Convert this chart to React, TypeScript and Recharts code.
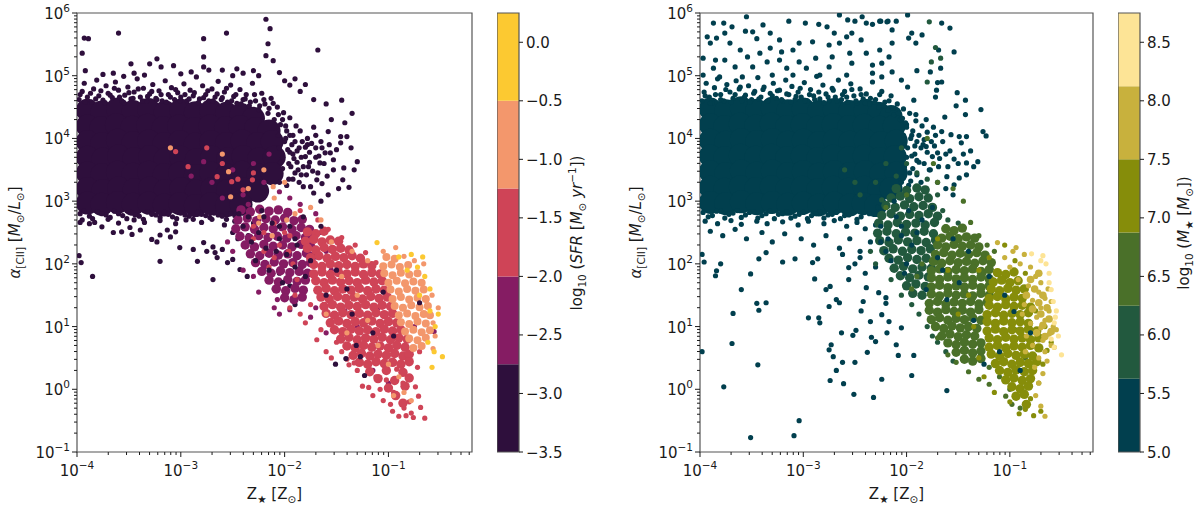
import React from "react";
import { ScatterChart, Scatter, XAxis, YAxis, ReferenceArea } from "recharts";

type P = [number, number];

// axes are log10(Z / Zsun) and log10(alpha); ticks are drawn as 10^n
const X_DOMAIN: [number, number] = [-4, -0.195];
const Y_DOMAIN: [number, number] = [-1, 6];
const X_MAJOR = [-4, -3, -2, -1];
const Y_MAJOR = [-1, 0, 1, 2, 3, 4, 5, 6];
const MINOR_STEPS = [2, 3, 4, 5, 6, 7, 8, 9];

const SFR_EDGES = [-3.5, -2.75, -2.0, -1.25, -0.5, 0.25];
const SFR_COLORS = ["#2e0f3c", "#851c63", "#cf4457", "#f3976c", "#fcc931"];
const SFR_TICKS = [-3.5, -3.0, -2.5, -2.0, -1.5, -1.0, -0.5, 0.0];

const MASS_EDGES = [5.0, 5.625, 6.25, 6.875, 7.5, 8.125, 8.75];
const MASS_COLORS = ["#013f4e", "#22593e", "#4a7029", "#868d0a", "#c8b13d", "#fde496"];
const MASS_TICKS = [5.0, 5.5, 6.0, 6.5, 7.0, 7.5, 8.0, 8.5];

// ---------- left panel (coloured by SFR) ----------
const leftDarkCore: P[] = [
  [-3.9,4.45],[-3.76,4.42],[-3.61,4.47],[-3.46,4.43],[-3.31,4.46],[-3.15,4.42],[-3.0,4.45],[-2.86,4.41],[-2.71,4.44],[-2.56,4.4],[-2.42,4.38],[-2.3,4.32],
  [-3.9,4.2],[-3.77,4.17],[-3.62,4.22],[-3.47,4.18],[-3.32,4.21],[-3.17,4.17],[-3.02,4.2],[-2.87,4.16],[-2.72,4.2],[-2.57,4.17],[-2.43,4.19],[-2.28,4.16],[-2.15,4.12],
  [-3.9,3.95],[-3.76,3.92],[-3.61,3.97],[-3.46,3.93],[-3.31,3.96],[-3.16,3.92],[-3.01,3.95],[-2.86,3.91],[-2.71,3.95],[-2.56,3.92],[-2.41,3.96],[-2.26,3.92],[-2.12,3.95],
  [-3.9,3.7],[-3.75,3.67],[-3.6,3.72],[-3.45,3.68],[-3.3,3.71],[-3.15,3.67],[-3.0,3.7],[-2.85,3.66],[-2.7,3.7],[-2.55,3.67],[-2.4,3.71],[-2.25,3.67],[-2.1,3.7],
  [-3.9,3.45],[-3.76,3.42],[-3.61,3.46],[-3.46,3.43],[-3.31,3.46],[-3.16,3.42],[-3.01,3.45],[-2.86,3.41],[-2.71,3.45],[-2.56,3.42],[-2.41,3.46],[-2.26,3.42],[-2.12,3.44],
  [-3.9,3.2],[-3.75,3.17],[-3.6,3.21],[-3.45,3.18],[-3.3,3.21],[-3.15,3.17],[-3.0,3.2],[-2.85,3.16],[-2.7,3.2],[-2.55,3.17],[-2.4,3.2],[-2.26,3.16],
  [-3.9,2.97],[-3.76,2.95],[-3.61,2.98],[-3.46,2.95],[-3.31,2.97],[-3.16,2.94],[-3.01,2.96],[-2.86,2.93],[-2.71,2.96],[-2.56,2.93],[-2.42,2.95],
];

const leftDark: P[] = [
  [-3.98,4.62],[-3.95,4.75],[-3.93,4.88],[-3.9,4.66],[-3.86,4.58],[-3.84,4.79],[-3.81,4.93],[-3.79,4.68],[-3.75,4.61],[-3.72,4.84],[-3.7,4.72],[-3.66,4.65],[-3.63,4.9],[-3.6,4.77],[-3.57,4.6],[-3.54,4.69],[-3.51,4.82],[-3.48,4.63],[-3.45,4.74],[-3.42,4.95],[-3.39,4.66],[-3.36,4.8],[-3.33,4.59],[-3.3,4.71],[-3.27,4.86],[-3.24,4.64],[-3.21,4.76],[-3.18,4.6],[-3.15,4.92],[-3.12,4.7],[-3.09,4.81],[-3.06,4.62],[-3.03,4.73],[-3.0,4.66],[-2.97,4.87],[-2.94,4.6],[-2.91,4.77],[-2.88,4.68],[-2.85,4.98],[-2.82,4.63],[-2.79,4.84],[-2.76,4.7],[-2.73,4.6],[-2.7,4.79],[-2.67,4.66],[-2.64,4.91],[-2.61,4.62],[-2.58,4.74],[-2.55,4.58],[-2.52,4.85],[-2.49,4.67],[-2.46,4.56],[-2.43,4.78],[-2.4,4.62],[-2.37,4.7],[-2.34,4.52],[-2.31,4.88],[-2.28,4.6],[-2.25,4.46],[-2.22,4.72],[-2.19,4.55],[-2.16,4.4],[-2.13,4.64],[-2.1,4.3],[-2.07,4.5],[-2.04,4.22],[-2.01,4.41],[-1.98,4.12],[-1.95,4.33],[-1.92,4.05],[-1.89,4.2],
  [-3.97,4.7],[-3.92,4.58],[-3.87,4.72],[-3.82,4.63],[-3.77,4.76],[-3.73,4.57],[-3.68,4.69],[-3.64,4.8],[-3.59,4.66],[-3.55,4.57],[-3.5,4.73],[-3.46,4.64],[-3.41,4.79],[-3.37,4.6],[-3.32,4.67],[-3.28,4.75],[-3.23,4.62],[-3.19,4.7],[-3.14,4.58],[-3.1,4.66],[-3.05,4.78],[-3.01,4.6],[-2.96,4.7],[-2.92,4.63],[-2.87,4.73],[-2.83,4.57],[-2.78,4.65],[-2.74,4.76],[-2.69,4.6],[-2.65,4.71],[-2.6,4.65],[-2.56,4.8],[-2.51,4.6],[-2.47,4.7],[-2.42,4.55],[-2.38,4.63],[-2.33,4.58],[-2.29,4.7],[-2.24,4.52],[-2.2,4.62],[-2.15,4.48],[-2.11,4.56],[-2.06,4.38],[-2.02,4.3],[-1.99,4.2],
  [-3.93,5.6],[-3.89,5.59],[-3.95,5.36],[-3.92,5.08],[-3.6,5.68],[-2.78,5.59],[-2.78,5.3],[-2.56,5.68],[-2.18,5.9],[-2.14,5.75],[-2.16,5.51],[-2.18,5.32],[-2.11,5.24],[-3.23,5.27],[-3.3,5.19],[-3.48,5.19],[-3.07,5.16],[-3.19,5.14],[-2.78,5.14],[-2.73,5.09],[-2.6,5.09],[-2.46,5.11],[-3.65,5.04],[-3.45,5.04],[-3.75,5.02],[-3.55,4.99],[-3.35,5.01],[-3.0,5.03],[-2.9,5.06],[-2.5,5.0],[-2.4,5.04],[-2.3,5.08],[-2.25,5.0],[-2.05,5.05],[-2.0,4.92],[-1.95,4.85],[-1.9,4.95],[-1.85,4.75],[-1.8,4.86],[-1.72,4.62],[-1.68,5.41],[-1.6,4.55],[-1.55,4.3],[-1.45,4.61],[-1.42,4.25],[-1.35,4.4],
  [-1.72,4.18],[-1.58,4.11],[-1.46,4.03],[-1.4,4.03],[-1.46,3.93],[-1.3,3.63],[-1.43,3.53],[-1.44,3.34],[-1.53,3.5],[-1.61,3.77],[-1.53,3.66],[-1.69,3.34],[-1.68,3.45],[-1.75,3.23],[-1.72,3.13],[-1.56,3.77],[-1.66,3.61],[-1.8,3.71],[-1.77,3.55],[-1.84,3.42],[-1.82,3.23],
  [-1.95,4.05],[-1.9,3.95],[-1.86,3.85],[-1.92,3.75],[-1.88,3.62],[-1.83,3.95],[-1.8,3.86],[-1.78,4.0],[-1.85,4.12],[-1.94,3.55],[-1.9,3.45],[-1.86,3.3],[-1.96,3.35],[-1.76,3.78],[-1.74,3.92],[-1.7,4.05],[-1.65,3.95],[-1.64,3.85],[-1.7,3.7],[-2.02,3.52],[-1.98,3.25],[-2.05,3.3],
  [-2.0,3.95],[-1.97,3.82],[-2.02,3.7],[-1.96,3.6],[-2.04,3.62],[-1.99,4.0],[-2.05,3.85],[-1.93,3.9],[-1.91,3.68],[-1.95,3.78],[-2.06,4.05],[-1.88,3.8],[-1.84,3.7],[-1.82,3.55],[-1.87,3.5],[-1.92,3.35],[-1.79,3.42],[-1.76,3.62],[-1.73,3.48],[-1.78,3.9],[-1.7,3.85],[-1.67,3.72],[-1.62,3.6],[-1.59,3.4],[-1.64,3.28],[-1.57,3.9],[-1.5,3.82],[-1.36,3.85],[-1.33,3.5],[-1.38,3.22],[-1.48,3.2],[-1.58,3.1],[-1.65,3.0],
  [-3.97,2.8],[-3.88,2.76],[-3.8,2.83],[-3.72,2.78],[-3.64,2.84],[-3.56,2.77],[-3.48,2.82],[-3.4,2.76],[-3.32,2.83],[-3.24,2.78],[-3.16,2.82],[-3.08,2.75],[-3.0,2.81],[-2.92,2.76],[-2.84,2.82],[-2.76,2.77],[-2.68,2.81],[-2.6,2.76],[-2.52,2.8],[-2.44,2.74],[-2.36,2.8],
  [-3.93,2.84],[-3.85,2.72],[-3.76,2.8],[-3.68,2.74],[-3.6,2.8],[-3.52,2.72],[-3.44,2.78],[-3.36,2.71],[-3.28,2.79],[-3.2,2.74],[-3.12,2.79],[-3.04,2.72],[-2.96,2.78],[-2.88,2.71],[-2.8,2.79],[-2.72,2.74],[-2.64,2.78],[-2.56,2.71],[-2.48,2.77],
  [-3.95,2.7],[-3.83,2.66],[-3.7,2.71],[-3.6,2.65],[-3.45,2.7],[-3.35,2.66],[-3.2,2.69],[-3.05,2.64],[-2.95,2.7],[-2.8,2.66],[-2.7,2.71],[-2.58,2.62],[-2.48,2.68],[-2.4,2.58],[-2.3,2.65],
  [-3.97,2.66],[-3.88,2.64],[-3.76,2.59],[-3.65,2.5],[-3.57,2.51],[-3.49,2.58],[-3.47,2.47],[-3.39,2.54],[-3.28,2.39],[-3.23,2.35],[-3.2,2.46],[-3.13,2.54],[-3.1,2.43],[-3.05,2.51],[-3.01,2.26],[-2.88,2.23],[-2.84,2.04],[-2.78,2.34],[-2.75,2.2],[-2.69,2.27],[-2.67,2.18],[-2.65,2.1],[-2.6,2.23],[-2.55,2.02],[-3.2,2.04],[-2.69,1.75],[-3.85,1.8],[-3.98,2.13],[-3.96,2.02],[-2.5,2.07],[-2.43,1.91],[-2.36,1.8],
  [-2.3,2.3],[-2.25,2.1],[-2.2,1.95],[-2.15,1.75],[-2.1,1.6],[-2.05,1.85],[-2.0,1.45],[-1.95,1.65],[-1.9,1.35],[-2.35,2.45],[-2.45,2.4],[-2.5,2.5],
];

const leftPurpleCore: P[] = [
  [-2.42,2.86],[-2.33,2.83],[-2.24,2.87],[-2.15,2.84],[-2.06,2.86],[-1.97,2.82],
  [-2.45,2.7],[-2.36,2.73],[-2.27,2.69],[-2.18,2.72],[-2.09,2.7],[-2.0,2.73],[-1.91,2.69],[-1.83,2.71],
  [-2.47,2.56],[-2.38,2.59],[-2.29,2.55],[-2.2,2.58],[-2.11,2.56],[-2.02,2.59],[-1.93,2.55],[-1.84,2.58],[-1.76,2.55],
  [-2.43,2.44],[-2.34,2.41],[-2.25,2.45],[-2.16,2.42],[-2.07,2.44],[-1.98,2.41],[-1.89,2.45],[-1.8,2.42],[-1.72,2.44],
  [-2.38,2.3],[-2.29,2.27],[-2.2,2.31],[-2.11,2.28],[-2.02,2.3],[-1.93,2.27],[-1.84,2.31],[-1.75,2.28],
  [-2.33,2.16],[-2.24,2.13],[-2.15,2.17],[-2.06,2.14],[-1.97,2.16],[-1.88,2.13],[-1.79,2.17],[-1.71,2.14],
  [-2.28,2.02],[-2.19,1.99],[-2.1,2.03],[-2.01,2.0],[-1.92,2.02],[-1.83,1.99],[-1.75,2.02],
  [-2.22,1.88],[-2.13,1.85],[-2.04,1.89],[-1.95,1.86],[-1.86,1.88],[-1.78,1.85],
  [-2.15,1.74],[-2.06,1.71],[-1.97,1.75],[-1.88,1.72],[-1.8,1.74],
  [-2.08,1.6],[-1.99,1.57],[-1.9,1.61],[-1.82,1.58],
  [-2.0,1.46],[-1.91,1.43],[-1.83,1.47],
];

const leftPurple: P[] = [
  [-2.9,3.4],[-2.78,3.63],[-2.7,3.3],[-2.5,3.5],[-2.3,3.6],[-2.2,3.3],[-2.05,3.15],[-2.4,3.1],[-2.6,3.05],[-2.15,3.75],[-1.95,3.05],[-2.35,2.95],[-1.85,2.95],[-1.7,2.8],[-1.65,2.5],[-1.6,2.2],[-1.55,1.9],[-1.5,1.5],[-1.3,1.0],[-1.1,1.3],[-0.95,0.6],[-1.25,0.6],[-1.6,0.9],[-0.56,0.92],
  [-2.1,1.3],[-2.05,1.2],[-1.95,1.27],[-2.07,1.43],[-2.25,1.55],[-2.3,1.8],[-2.4,1.9],[-2.5,2.2],[-2.55,2.35],[-1.7,1.3],[-1.75,1.15],[-1.45,0.8],[-1.35,0.55],[-1.15,0.3],[-1.0,0.1],[-1.42,1.25],[-1.2,1.6],[-1.4,2.0],[-0.8,0.45],[-0.75,1.0],
];

const leftRedCore: P[] = [
  [-1.78,2.51],[-1.7,2.48],[-1.62,2.52],
  [-1.8,2.36],[-1.72,2.39],[-1.64,2.35],[-1.56,2.38],[-1.48,2.36],
  [-1.78,2.25],[-1.7,2.22],[-1.62,2.26],[-1.54,2.23],[-1.46,2.25],[-1.38,2.22],
  [-1.75,2.1],[-1.67,2.13],[-1.59,2.09],[-1.51,2.12],[-1.43,2.1],[-1.35,2.13],[-1.27,2.09],
  [-1.72,1.99],[-1.64,1.96],[-1.56,2.0],[-1.48,1.97],[-1.4,1.99],[-1.32,1.96],[-1.24,2.0],[-1.16,1.97],
  [-1.72,1.84],[-1.64,1.87],[-1.56,1.83],[-1.48,1.86],[-1.4,1.84],[-1.32,1.87],[-1.24,1.83],[-1.16,1.86],[-1.08,1.84],
  [-1.7,1.73],[-1.62,1.7],[-1.54,1.74],[-1.46,1.71],[-1.38,1.73],[-1.3,1.7],[-1.22,1.74],[-1.14,1.71],[-1.06,1.73],
  [-1.68,1.58],[-1.6,1.61],[-1.52,1.57],[-1.44,1.6],[-1.36,1.58],[-1.28,1.61],[-1.2,1.57],[-1.12,1.6],[-1.04,1.58],
  [-1.65,1.47],[-1.57,1.44],[-1.49,1.48],[-1.41,1.45],[-1.33,1.47],[-1.25,1.44],[-1.17,1.48],[-1.09,1.45],[-1.01,1.47],
  [-1.62,1.32],[-1.54,1.35],[-1.46,1.31],[-1.38,1.34],[-1.3,1.32],[-1.22,1.35],[-1.14,1.31],[-1.06,1.34],[-0.98,1.32],
  [-1.6,1.21],[-1.52,1.18],[-1.44,1.22],[-1.36,1.19],[-1.28,1.21],[-1.2,1.18],[-1.12,1.22],[-1.04,1.19],[-0.96,1.21],
  [-1.56,1.06],[-1.48,1.09],[-1.4,1.05],[-1.32,1.08],[-1.24,1.06],[-1.16,1.09],[-1.08,1.05],[-1.0,1.08],[-0.92,1.06],
  [-1.52,0.95],[-1.44,0.92],[-1.36,0.96],[-1.28,0.93],[-1.2,0.95],[-1.12,0.92],[-1.04,0.96],[-0.96,0.93],[-0.88,0.95],
  [-1.46,0.8],[-1.38,0.83],[-1.3,0.79],[-1.22,0.82],[-1.14,0.8],[-1.06,0.83],[-0.98,0.79],[-0.9,0.82],[-0.82,0.8],
  [-1.4,0.69],[-1.32,0.66],[-1.24,0.7],[-1.16,0.67],[-1.08,0.69],[-1.0,0.66],[-0.92,0.7],[-0.84,0.67],
  [-1.34,0.54],[-1.26,0.57],[-1.18,0.53],[-1.1,0.56],[-1.02,0.54],[-0.94,0.57],[-0.86,0.53],[-0.8,0.56],
  [-1.28,0.43],[-1.2,0.4],[-1.12,0.44],[-1.04,0.41],[-0.96,0.43],[-0.88,0.4],[-0.8,0.44],
  [-1.18,0.28],[-1.02,0.3],[-0.86,0.27],
  [-1.1,0.17],[-0.94,0.14],[-0.8,0.18],
  [-1.0,0.02],[-0.84,0.05],
  [-0.93,-0.1],[-0.86,-0.22],
];

const leftRed: P[] = [
  [-1.8,1.06],[-1.69,0.79],[-1.38,0.39],[-1.19,0.03],[-1.08,0.0],[-0.98,-0.24],[-0.9,-0.43],[-0.76,-0.45],[-0.65,-0.46],[-0.69,-0.29],[-0.71,-0.11],[-0.74,0.04],[-0.79,0.2],[-1.6,0.6],[-1.5,0.75],[-1.3,0.3],[-1.15,-0.1],[-1.9,1.5],[-1.95,1.3],[-1.85,1.2],[-1.75,1.35],[-1.25,0.05],[-0.85,-0.3],[-1.02,0.15],[-0.95,-0.05],[-0.86,0.1],[-0.8,-0.2],[-0.92,0.32],[-1.12,0.2],[-0.72,0.35],[-0.7,0.6],[-1.55,0.5],[-1.45,0.6],[-1.65,0.95],
  [-1.88,1.75],[-1.92,2.0],[-1.96,2.2],[-2.0,2.5],[-2.1,2.65],[-2.3,2.6],[-2.2,2.2],[-2.15,1.95],[-1.85,2.85],[-1.68,2.7],[-1.58,2.55],[-1.45,2.42],[-1.32,2.3],[-1.22,2.18],[-1.12,2.02],[-1.4,0.48],[-1.33,0.42],[-0.78,-0.38],[-0.83,-0.42],[-0.96,-0.35],[-1.05,-0.18],
  [-2.6,3.6],[-2.75,3.85],[-2.45,3.35],[-2.3,3.45],[-2.93,3.55],[-2.51,3.31],[-2.31,3.34],[-2.4,3.18],[-2.65,3.39],[-3.05,3.79],
  [-2.2,2.5],[-2.05,2.3],[-1.95,2.45],[-2.1,2.1],[-2.3,2.4],
];

const leftOrangeCore: P[] = [
  [-1.02,2.11],[-0.94,2.08],
  [-1.05,1.96],[-0.97,1.99],[-0.89,1.95],[-0.81,1.98],
  [-1.04,1.85],[-0.96,1.82],[-0.88,1.86],[-0.8,1.83],[-0.72,1.85],
  [-1.0,1.7],[-0.92,1.73],[-0.84,1.69],[-0.76,1.72],[-0.68,1.7],
  [-0.98,1.59],[-0.9,1.56],[-0.82,1.6],[-0.74,1.57],[-0.66,1.59],
  [-0.96,1.44],[-0.88,1.47],[-0.8,1.43],[-0.72,1.46],[-0.64,1.44],
  [-0.94,1.33],[-0.86,1.3],[-0.78,1.34],[-0.7,1.31],[-0.62,1.33],
  [-0.9,1.18],[-0.82,1.21],[-0.74,1.17],[-0.66,1.2],[-0.6,1.18],
  [-0.88,1.07],[-0.8,1.04],[-0.72,1.08],[-0.64,1.05],
  [-0.84,0.92],[-0.76,0.95],[-0.68,0.91],[-0.6,0.94],
  [-0.8,0.81],[-0.72,0.78],[-0.64,0.82],
  [-0.76,0.66],[-0.68,0.69],
];

const leftOrange: P[] = [
  [-0.57,0.65],[-0.57,1.06],[-0.62,1.19],[-0.93,2.26],[-1.05,2.2],[-1.2,2.05],[-1.35,2.2],[-1.55,2.35],[-1.45,1.8],[-1.3,1.5],[-1.2,1.1],[-1.1,0.7],[-1.0,0.4],[-0.9,0.2],[-0.85,-0.05],[-0.78,-0.18],[-0.95,-0.1],[-1.65,2.7],[-1.75,2.9],[-2.0,3.3],[-2.2,3.5],[-2.6,3.75],[-2.35,3.2],[-2.1,3.05],[-1.9,2.8],[-1.6,1.2],[-1.4,0.9],[-0.55,0.85],[-0.52,1.3],[-0.58,1.5],[-0.66,2.0],[-0.75,2.05],[-0.85,2.12],
  [-3.1,3.85],[-2.54,3.47],[-2.52,3.07],[-2.24,2.75],[-2.11,3.23],
  [-2.12,2.45],[-1.98,2.7],[-2.25,2.65],
];

const leftYellow: P[] = [
  [-1.11,2.34],[-0.9,2.11],[-0.78,2.15],[-0.67,2.11],[-0.48,0.52],[-0.55,1.0],[-0.6,1.6],[-0.65,1.8],[-0.7,1.5],[-0.52,1.2],[-0.62,0.75],[-0.58,0.35],[-0.82,1.9],[-0.72,1.95],[-0.6,1.25],[-0.56,0.6],
];

const leftDarkTop: P[] = [
  [-1.51,0.4],[-1.41,0.49],[-1.31,0.7],[-1.27,0.52],[-1.23,0.22],[-0.7,1.38],[-1.6,1.5],[-1.75,2.05],[-1.5,1.9],[-1.35,1.2],[-1.15,0.9],[-1.05,1.55],[-1.9,2.4],[-2.05,2.6],[-1.65,2.6],[-2.2,2.75],[-1.8,1.8],[-1.4,1.6],[-0.95,0.85],
  [-2.4,2.6],[-2.32,2.35],[-2.25,2.5],[-2.18,2.25],[-2.12,2.65],[-2.05,2.4],[-1.98,2.15],[-1.95,2.6],[-2.28,2.05],[-2.15,1.9],[-2.08,2.2],[-1.88,2.3],[-1.82,2.75],[-2.44,2.8],[-2.22,2.85],[-1.9,1.95],[-2.02,1.7],[-2.35,2.75],
];

// ---------- right panel (coloured by stellar mass) ----------
const rightTealCore: P[] = [
  [-3.9,4.47],[-3.75,4.44],[-3.6,4.49],[-3.45,4.45],[-3.3,4.48],[-3.15,4.44],[-3.0,4.47],[-2.85,4.43],[-2.7,4.46],[-2.55,4.43],[-2.4,4.45],[-2.27,4.4],[-2.15,4.35],
  [-3.9,4.22],[-3.76,4.19],[-3.61,4.23],[-3.46,4.2],[-3.31,4.23],[-3.16,4.19],[-3.01,4.22],[-2.86,4.18],[-2.71,4.22],[-2.56,4.19],[-2.41,4.21],[-2.26,4.18],[-2.12,4.2],
  [-3.9,3.97],[-3.75,3.94],[-3.6,3.98],[-3.45,3.95],[-3.3,3.98],[-3.15,3.94],[-3.0,3.97],[-2.85,3.93],[-2.7,3.97],[-2.55,3.94],[-2.4,3.97],[-2.25,3.93],[-2.1,3.96],
  [-3.9,3.72],[-3.76,3.69],[-3.61,3.73],[-3.46,3.7],[-3.31,3.73],[-3.16,3.69],[-3.01,3.72],[-2.86,3.68],[-2.71,3.72],[-2.56,3.69],[-2.41,3.72],[-2.26,3.68],[-2.11,3.71],
  [-3.9,3.47],[-3.75,3.44],[-3.6,3.48],[-3.45,3.45],[-3.3,3.48],[-3.15,3.44],[-3.0,3.47],[-2.85,3.43],[-2.7,3.47],[-2.55,3.44],[-2.4,3.47],[-2.25,3.43],[-2.1,3.45],
  [-3.9,3.22],[-3.76,3.19],[-3.61,3.23],[-3.46,3.2],[-3.31,3.23],[-3.16,3.19],[-3.01,3.22],[-2.86,3.18],[-2.71,3.22],[-2.56,3.19],[-2.41,3.22],[-2.27,3.18],[-2.15,3.2],
  [-3.9,2.98],[-3.75,2.96],[-3.6,2.99],[-3.45,2.96],[-3.3,2.98],[-3.15,2.95],[-3.0,2.97],[-2.85,2.94],[-2.7,2.97],[-2.55,2.94],[-2.42,2.96],[-2.3,2.93],
];

const rightTeal: P[] = [
  [-3.98,4.6],[-3.96,4.74],[-3.94,4.88],[-3.91,4.66],[-3.88,4.57],[-3.86,4.81],[-3.83,4.95],[-3.8,4.7],[-3.77,4.6],[-3.74,4.86],[-3.71,4.74],[-3.68,4.64],[-3.65,4.92],[-3.62,4.79],[-3.59,4.6],[-3.56,4.69],[-3.53,4.84],[-3.5,4.62],[-3.47,4.75],[-3.44,4.97],[-3.41,4.66],[-3.38,4.82],[-3.35,4.59],[-3.32,4.72],[-3.29,4.88],[-3.26,4.64],[-3.23,4.77],[-3.2,4.6],[-3.17,4.93],[-3.14,4.7],[-3.11,4.83],[-3.08,4.62],[-3.05,4.74],[-3.02,4.66],[-2.99,4.89],[-2.96,4.6],[-2.93,4.78],[-2.9,4.68],[-2.87,4.99],[-2.84,4.63],[-2.81,4.85],[-2.78,4.71],[-2.75,4.6],[-2.72,4.8],[-2.69,4.66],[-2.66,4.93],[-2.63,4.62],[-2.6,4.75],[-2.57,4.58],[-2.54,4.87],[-2.51,4.68],[-2.48,4.57],[-2.45,4.79],[-2.42,4.63],[-2.39,4.71],[-2.36,4.55],[-2.33,4.9],[-2.3,4.62],[-2.27,4.5],[-2.24,4.75],[-2.21,4.58],[-2.18,4.45],[-2.15,4.68],[-2.12,4.38],[-2.09,4.55],[-2.06,4.3],[-2.03,4.47],[-2.0,4.22],[-1.97,4.4],[-1.94,4.12],[-1.91,4.28],
  [-3.95,4.68],[-3.9,4.56],[-3.85,4.7],[-3.8,4.62],[-3.75,4.78],[-3.7,4.58],[-3.66,4.7],[-3.61,4.82],[-3.57,4.66],[-3.52,4.58],[-3.48,4.72],[-3.43,4.63],[-3.39,4.78],[-3.34,4.6],[-3.3,4.68],[-3.25,4.76],[-3.21,4.62],[-3.16,4.71],[-3.12,4.58],[-3.07,4.67],[-3.03,4.8],[-2.98,4.6],[-2.94,4.7],[-2.89,4.62],[-2.85,4.74],[-2.8,4.57],[-2.76,4.66],[-2.71,4.77],[-2.67,4.6],[-2.62,4.7],[-2.58,4.66],[-2.53,4.78],[-2.49,4.6],[-2.44,4.7],[-2.4,4.56],[-2.35,4.64],[-2.31,4.58],[-2.26,4.7],[-2.22,4.52],[-2.17,4.6],[-2.13,4.48],[-2.08,4.4],[-2.04,4.32],[-2.01,4.25],
  [-3.87,5.84],[-3.77,5.84],[-3.69,5.78],[-3.93,5.62],[-3.84,5.6],[-3.9,5.52],[-3.76,5.68],[-3.71,5.52],[-3.97,5.28],[-3.85,5.25],[-3.76,5.25],[-3.55,5.94],[-3.56,5.71],[-3.49,5.7],[-3.45,5.59],[-3.39,5.81],[-3.32,5.68],[-3.23,5.57],[-3.14,5.87],[-2.98,5.84],[-2.85,5.82],[-2.77,5.78],[-2.7,5.68],[-2.65,5.97],[-2.57,5.89],[-2.5,5.87],[-2.43,5.94],[-2.39,5.84],[-2.33,5.82],[-2.25,5.87],[-2.18,5.87],[-2.14,5.73],[-2.53,5.68],[-2.44,5.57],[-2.58,5.62],[-2.65,5.52],[-2.75,5.49],[-2.91,5.54],[-3.04,5.52],[-3.1,5.41],[-3.21,5.38],[-3.32,5.44],[-3.42,5.36],[-3.61,5.41],[-3.54,5.3],[-3.35,5.22],[-3.23,5.25],[-3.04,5.22],[-2.88,5.28],[-2.72,5.3],[-2.55,5.36],[-2.39,5.36],[-2.26,5.41],[-2.17,5.3],[-2.14,5.52],[-2.53,5.2],[-2.33,5.17],[-2.75,5.14],[-2.97,5.12],[-3.16,5.12],[-3.49,5.14],[-3.66,5.14],[-3.87,5.12],[-3.97,5.01],[-3.81,4.98],[-3.59,4.98],[-3.3,5.01],[-3.1,5.01],[-2.84,5.01],[-2.58,5.01],[-2.24,4.98],
  [-2.26,5.87],[-2.19,5.86],[-2.1,5.87],[-1.99,5.97],[-1.66,5.84],[-1.58,5.76],[-1.95,5.68],[-1.85,5.65],[-1.98,5.6],[-1.91,5.52],[-1.69,5.41],[-1.54,5.38],[-1.9,5.08],[-1.77,5.06],[-1.67,5.12],[-1.7,4.89],[-1.66,4.9],[-1.71,4.77],[-1.51,4.73],[-1.43,4.61],[-1.52,4.52],[-1.72,4.66],[-1.28,4.46],[-1.43,4.38],[-1.63,4.34],[-1.26,4.11],[-1.23,4.04],[-1.42,4.03],[-1.49,4.03],[-1.47,3.93],[-1.31,3.63],[-1.42,3.61],[-1.54,3.67],[-1.42,3.42],[-1.49,3.37],[-1.61,3.39],[-1.54,3.26],[-1.7,3.77],[-1.62,3.75],[-1.69,3.55],[-1.75,3.71],[-1.81,3.87],[-1.57,4.06],[-1.66,4.11],[-1.74,4.18],[-1.81,4.3],[-1.91,4.38],[-1.93,4.61],[-1.99,4.82],[-2.05,4.93],[-2.14,5.06],[-2.24,5.2],[-2.33,5.04],
  [-1.95,4.05],[-1.9,3.95],[-1.86,3.85],[-1.92,3.75],[-1.88,3.62],[-1.83,3.98],[-1.8,4.1],[-1.85,4.2],[-1.94,3.52],[-1.9,3.42],[-1.86,3.3],[-1.96,3.32],[-1.76,3.95],[-1.72,4.05],[-1.78,3.5],[-2.02,3.55],[-1.98,3.25],[-2.05,3.3],
  [-2.0,4.18],[-1.96,4.0],[-1.99,3.85],[-1.95,3.72],[-2.03,3.6],[-1.97,3.45],[-2.04,3.38],[-1.92,3.88],[-1.9,3.65],[-1.88,4.05],[-1.84,3.9],[-1.83,3.6],[-1.8,3.78],[-1.77,3.5],[-1.73,3.88],[-1.68,3.68],[-1.65,3.95],[-1.6,3.55],[-1.58,3.8],[-1.5,3.6],[-1.45,3.75],[-1.38,3.8],[-1.35,3.55],[-1.62,3.2],[-1.7,3.3],[-1.55,3.1],[-2.02,3.9],[-2.0,3.7],[-2.03,4.05],
  [-3.97,2.82],[-3.88,2.77],[-3.8,2.84],[-3.72,2.79],[-3.64,2.85],[-3.56,2.78],[-3.48,2.83],[-3.4,2.77],[-3.32,2.84],[-3.24,2.79],[-3.16,2.83],[-3.08,2.76],[-3.0,2.82],[-2.92,2.77],[-2.84,2.83],[-2.76,2.78],[-2.68,2.82],[-2.6,2.77],[-2.52,2.81],[-2.44,2.75],[-2.36,2.8],
  [-3.92,2.75],[-3.84,2.84],[-3.76,2.73],[-3.68,2.81],[-3.6,2.74],[-3.52,2.82],[-3.44,2.73],[-3.36,2.8],[-3.28,2.72],[-3.2,2.8],[-3.12,2.73],[-3.04,2.79],[-2.96,2.72],[-2.88,2.8],[-2.8,2.73],[-2.72,2.79],[-2.64,2.72],[-2.56,2.78],[-2.48,2.71],
  [-3.95,2.68],[-3.83,2.64],[-3.7,2.69],[-3.6,2.63],[-3.45,2.68],[-3.35,2.64],[-3.2,2.67],[-3.05,2.62],[-2.95,2.68],[-2.8,2.64],[-2.7,2.69],[-2.58,2.6],[-2.48,2.66],[-2.4,2.56],[-2.3,2.62],
  [-3.9,2.52],[-3.78,2.45],[-3.66,2.55],[-3.55,2.4],[-3.4,2.5],[-3.3,2.35],[-3.18,2.48],[-3.02,2.4],[-2.9,2.3],[-2.78,2.45],[-2.65,2.25],[-2.55,2.4],[-2.45,2.2],[-2.35,2.35],[-3.98,2.15],[-3.96,2.03],[-3.85,1.81],[-3.84,1.89],[-3.8,2.0],[-3.2,2.03],[-3.08,2.08],[-3.43,2.08],[-3.36,2.18],[-2.91,2.02],[-2.86,2.08],[-2.5,2.0],[-2.4,1.85],[-2.3,1.95],[-2.45,2.1],[-2.62,2.15],
  [-3.6,1.59],[-3.51,1.84],[-3.45,1.37],[-3.43,1.26],[-3.36,1.38],[-3.68,1.21],[-3.69,0.73],[-3.98,0.6],[-3.44,0.39],[-3.77,0.04],[-3.51,-0.77],[-3.09,-0.74],[-3.04,-0.5],[-2.95,1.14],[-2.85,1.14],[-2.84,1.06],[-2.75,0.63],[-2.73,0.71],[-2.71,0.52],[-2.68,0.3],[-2.74,0.14],[-2.61,0.09],[-2.51,-0.08],[-2.5,0.43],[-2.62,0.43],[-2.63,0.9],[-2.52,0.86],[-2.49,0.94],[-2.44,1.25],[-2.35,1.08],[-2.38,0.59],[-2.34,0.83],[-2.3,0.76],[-2.32,-0.13],[-2.24,0.16],[-2.27,1.54],[-2.2,1.46],[-2.89,1.76],[-2.78,1.59],[-2.74,1.64],[-2.68,1.43],[-2.75,1.32],[-2.65,1.38],[-2.56,1.75],[-2.56,1.94],[-2.39,1.62],[-2.42,1.4],[-1.95,0.22],[-2.08,0.54],[-1.93,0.54],[-1.61,-0.02],[-2.2,1.37],[-2.19,0.9],[-2.24,1.19],[-2.17,1.08],[-2.05,0.98],[-2.1,0.71],
];

const rightDkGreenCore: P[] = [
  [-2.1,3.2],[-2.0,3.17],[-1.9,3.21],[-1.82,3.18],
  [-2.15,3.05],[-2.06,3.08],[-1.97,3.04],[-1.88,3.07],[-1.79,3.05],
  [-2.2,2.93],[-2.11,2.9],[-2.02,2.94],[-1.93,2.91],[-1.84,2.93],[-1.75,2.9],
  [-2.24,2.77],[-2.15,2.8],[-2.06,2.76],[-1.97,2.79],[-1.88,2.77],[-1.79,2.8],[-1.7,2.76],
  [-2.27,2.65],[-2.18,2.62],[-2.09,2.66],[-2.0,2.63],[-1.91,2.65],[-1.82,2.62],[-1.73,2.66],
  [-2.28,2.49],[-2.19,2.52],[-2.1,2.48],[-2.01,2.51],[-1.92,2.49],[-1.83,2.52],[-1.74,2.48],
  [-2.26,2.37],[-2.17,2.34],[-2.08,2.38],[-1.99,2.35],[-1.9,2.37],[-1.81,2.34],[-1.72,2.38],
  [-2.22,2.21],[-2.13,2.24],[-2.04,2.2],[-1.95,2.23],[-1.86,2.21],[-1.77,2.24],
  [-2.17,2.09],[-2.08,2.06],[-1.99,2.1],[-1.9,2.07],[-1.81,2.09],[-1.72,2.06],
  [-2.12,1.93],[-2.03,1.96],[-1.94,1.92],[-1.85,1.95],[-1.76,1.93],
  [-2.06,1.81],[-1.97,1.78],[-1.88,1.82],[-1.79,1.79],
  [-2.0,1.65],[-1.91,1.68],[-1.82,1.64],
  [-1.94,1.53],[-1.85,1.5],
];

const rightDkGreen: P[] = [
  [-1.78,5.86],[-1.67,5.28],[-1.76,5.22],[-1.8,4.9],[-1.72,5.45],[-2.24,3.02],[-2.1,3.4],[-2.0,3.6],[-1.9,3.45],[-2.3,3.3],[-2.45,3.1],[-1.8,3.35],[-1.7,3.1],[-1.65,2.85],[-1.6,2.7],[-2.35,2.2],[-2.3,2.0],[-2.15,1.75],[-2.05,1.5],[-1.95,1.35],[-1.88,1.2],[-1.8,1.0],[-1.75,0.85],[-1.7,0.75],[-1.62,0.6],[-1.55,0.45],[-1.5,2.65],[-1.45,2.55],[-2.5,3.3],[-2.6,3.5],[-2.2,3.6],[-2.05,3.85],
];

const rightGreenCore: P[] = [
  [-1.62,2.56],[-1.54,2.53],[-1.46,2.57],
  [-1.66,2.41],[-1.58,2.44],[-1.5,2.4],[-1.42,2.43],[-1.34,2.41],
  [-1.7,2.3],[-1.62,2.27],[-1.54,2.31],[-1.46,2.28],[-1.38,2.3],[-1.3,2.27],
  [-1.72,2.15],[-1.64,2.18],[-1.56,2.14],[-1.48,2.17],[-1.4,2.15],[-1.32,2.18],[-1.24,2.14],
  [-1.74,2.04],[-1.66,2.01],[-1.58,2.05],[-1.5,2.02],[-1.42,2.04],[-1.34,2.01],[-1.26,2.05],[-1.18,2.02],
  [-1.76,1.89],[-1.68,1.92],[-1.6,1.88],[-1.52,1.91],[-1.44,1.89],[-1.36,1.92],[-1.28,1.88],[-1.2,1.91],
  [-1.76,1.78],[-1.68,1.75],[-1.6,1.79],[-1.52,1.76],[-1.44,1.78],[-1.36,1.75],[-1.28,1.79],[-1.2,1.76],
  [-1.76,1.63],[-1.68,1.66],[-1.6,1.62],[-1.52,1.65],[-1.44,1.63],[-1.36,1.66],[-1.28,1.62],[-1.2,1.65],
  [-1.76,1.52],[-1.68,1.49],[-1.6,1.53],[-1.52,1.5],[-1.44,1.52],[-1.36,1.49],[-1.28,1.53],[-1.2,1.5],
  [-1.78,1.37],[-1.7,1.4],[-1.62,1.36],[-1.54,1.39],[-1.46,1.37],[-1.38,1.4],[-1.3,1.36],[-1.22,1.39],
  [-1.78,1.26],[-1.7,1.23],[-1.62,1.27],[-1.54,1.24],[-1.46,1.26],[-1.38,1.23],[-1.3,1.27],
  [-1.76,1.11],[-1.68,1.14],[-1.6,1.1],[-1.52,1.13],[-1.44,1.11],[-1.36,1.14],[-1.28,1.1],
  [-1.72,1.0],[-1.64,0.97],[-1.56,1.01],[-1.48,0.98],[-1.4,1.0],[-1.32,0.97],
  [-1.66,0.85],[-1.58,0.88],[-1.5,0.84],[-1.42,0.87],[-1.34,0.85],
  [-1.6,0.74],[-1.52,0.71],[-1.44,0.75],[-1.36,0.72],[-1.28,0.74],
  [-1.52,0.59],[-1.44,0.62],[-1.36,0.58],[-1.28,0.61],
  [-1.44,0.48],[-1.36,0.45],[-1.28,0.49],
];

const rightGreen: P[] = [
  [-1.7,0.82],[-1.52,0.43],[-1.4,0.28],[-1.3,0.16],[-1.2,0.08],[-1.04,-0.11],[-0.98,-0.24],[-1.38,2.66],[-1.62,2.59],[-1.3,2.45],[-1.22,2.3],[-1.15,2.2],[-1.85,2.0],[-1.9,1.8],[-1.95,1.6],[-1.1,0.2],[-1.2,0.35],[-1.6,0.55],[-0.9,-0.3],[-1.0,0.0],[-1.12,1.3],[-0.95,0.95],[-0.85,0.5],[-1.25,1.85],[-1.45,3.0],[-1.55,3.2],[-1.7,3.3],[-2.0,3.1],[-2.2,2.9],[-1.8,4.0],[-1.74,3.6],
];

const rightOliveCore: P[] = [
  [-1.12,1.86],[-1.04,1.83],[-0.96,1.87],
  [-1.16,1.71],[-1.08,1.74],[-1.0,1.7],[-0.92,1.73],
  [-1.18,1.6],[-1.1,1.57],[-1.02,1.61],[-0.94,1.58],[-0.86,1.6],
  [-1.2,1.45],[-1.12,1.48],[-1.04,1.44],[-0.96,1.47],[-0.88,1.45],
  [-1.2,1.34],[-1.12,1.31],[-1.04,1.35],[-0.96,1.32],[-0.88,1.34],[-0.8,1.31],
  [-1.22,1.19],[-1.14,1.22],[-1.06,1.18],[-0.98,1.21],[-0.9,1.19],[-0.82,1.22],
  [-1.22,1.08],[-1.14,1.05],[-1.06,1.09],[-0.98,1.06],[-0.9,1.08],[-0.82,1.05],
  [-1.22,0.93],[-1.14,0.96],[-1.06,0.92],[-0.98,0.95],[-0.9,0.93],[-0.82,0.96],[-0.74,0.93],
  [-1.2,0.82],[-1.12,0.79],[-1.04,0.83],[-0.96,0.8],[-0.88,0.82],[-0.8,0.79],[-0.72,0.82],
  [-1.2,0.67],[-1.12,0.7],[-1.04,0.66],[-0.96,0.69],[-0.88,0.67],[-0.8,0.7],[-0.72,0.66],
  [-1.18,0.56],[-1.1,0.53],[-1.02,0.57],[-0.94,0.54],[-0.86,0.56],[-0.78,0.53],
  [-1.14,0.41],[-1.06,0.44],[-0.98,0.4],[-0.9,0.43],[-0.82,0.41],[-0.74,0.44],
  [-1.1,0.3],[-1.02,0.27],[-0.94,0.31],[-0.86,0.28],[-0.78,0.3],
  [-1.04,0.15],[-0.96,0.18],[-0.88,0.14],[-0.8,0.17],
  [-0.98,0.04],[-0.9,0.01],[-0.82,0.05],
  [-0.94,-0.11],[-0.86,-0.08],
  [-0.84,-0.24],
];

const rightOlive: P[] = [
  [-0.91,-0.39],[-0.77,-0.42],[-0.85,-0.32],[-0.7,-0.35],[-0.8,-0.15],[-0.72,0.1],[-0.68,0.4],[-0.64,0.62],[-1.25,0.2],[-1.3,0.5],[-1.35,1.0],[-1.4,1.5],[-1.3,1.9],[-1.2,2.1],[-1.05,2.3],[-0.95,2.05],[-0.85,1.85],[-0.75,1.25],[-0.66,1.0],[-0.6,0.75],[-1.5,1.2],[-1.6,1.9],[-1.7,2.4],[-1.15,-0.05],[-1.0,-0.2],
];

const rightGoldCore: P[] = [
  [-0.76,1.6],[-0.68,1.5],[-0.72,1.38],[-0.64,1.3],[-0.7,1.2],[-0.62,1.12],[-0.68,1.02],[-0.6,0.92],[-0.66,0.84],[-0.74,0.9],[-0.78,1.28],[-0.84,1.5],[-0.8,1.75],[-0.72,1.85],
];

const rightGold: P[] = [
  [-1.12,2.34],[-0.94,2.26],[-0.86,2.15],[-0.9,2.0],[-0.8,1.95],[-0.75,1.8],[-0.7,1.7],[-0.82,1.65],[-0.72,1.55],[-0.66,1.45],[-0.78,1.42],[-0.7,1.3],[-0.62,1.25],[-0.74,1.15],[-0.66,1.1],[-0.58,1.0],[-0.7,0.98],[-0.62,0.88],[-0.68,0.78],[-0.6,0.7],[-0.57,0.67],[-0.66,0.6],[-0.72,0.5],[-0.64,0.45],[-0.76,0.35],[-0.68,0.25],[-0.72,0.1],[-0.66,-0.43],[-0.7,-0.27],[-0.75,-0.1],[-0.92,1.75],[-1.0,1.95],[-0.86,1.35],[-0.8,1.05],[-0.55,0.95],[-0.6,1.4],[-0.63,1.6],[-1.05,2.1],[-0.97,2.2],[-0.85,0.6],[-0.78,0.7],[-0.84,0.85],[-0.88,1.2],
];

const rightLight: P[] = [
  [-0.79,2.16],[-0.68,2.13],[-0.6,1.59],[-0.57,1.06],[-0.5,0.55],[-0.57,0.67],[-0.55,1.25],[-0.62,1.85],[-0.58,1.4],[-0.65,2.0],[-0.53,0.85],[-0.7,2.05],[-0.62,1.7],[-0.56,1.15],[-0.6,0.8],
];

const rightTealTop: P[] = [
  [-1.81,1.59],[-1.61,1.43],[-1.49,1.7],[-1.2,1.8],[-0.96,1.24],[-1.35,1.1],[-1.1,0.6],[-0.9,0.3],[-1.7,2.1],[-1.55,2.4],[-1.9,2.5],[-2.0,2.0],[-1.25,0.4],[-0.8,0.9],[-1.05,1.5],[-1.4,2.2],[-1.75,2.9],[-1.85,2.7],[-2.05,2.6],[-1.65,1.9],
  [-2.25,2.6],[-2.18,2.4],[-2.1,2.75],[-2.2,2.2],[-2.05,2.45],[-1.98,2.85],[-2.12,3.0],[-2.28,2.9],[-2.15,2.05],[-1.95,2.3],[-2.02,1.85],[-2.25,2.35],
];

const FONT = "DejaVu Sans";
const INK = "#1a1a1a";
const SPINE = "#555";

function withMinors(majors: number[], lo: number, hi: number): number[] {
  const out: number[] = [];
  majors.forEach((n) => {
    if (n >= lo && n <= hi) out.push(n);
    MINOR_STEPS.forEach((k) => {
      const v = n + Math.log10(k);
      if (v > lo && v < hi) out.push(v);
    });
  });
  return out.sort((a, b) => a - b);
}

const X_TICKS = withMinors(X_MAJOR, X_DOMAIN[0], X_DOMAIN[1]);
const Y_TICKS = withMinors(Y_MAJOR, Y_DOMAIN[0], Y_DOMAIN[1]);

const expText = (n: number) => (n < 0 ? "\u2212" + Math.abs(n) : String(n));

function XTick(props: any) {
  const { x, y, payload } = props;
  const v = payload.value as number;
  const major = Number.isInteger(v);
  return (
    <g>
      <line x1={x} x2={x} y1={y} y2={y + (major ? 5 : 3)} stroke={INK} strokeWidth={1} />
      {major && (
        <text x={x} y={y + 24} textAnchor="middle" fontSize={15} fontFamily={FONT} fill={INK}>
          10<tspan dy={-7} fontSize={10.5}>{expText(v)}</tspan>
        </text>
      )}
    </g>
  );
}

function YTick(props: any) {
  const { x, y, payload } = props;
  const v = payload.value as number;
  const major = Number.isInteger(v);
  return (
    <g>
      <line x1={x} x2={x - (major ? 5 : 3)} y1={y} y2={y} stroke={INK} strokeWidth={1} />
      {major && (
        <text x={x - 7} y={y + 6} textAnchor="end" fontSize={15} fontFamily={FONT} fill={INK}>
          10<tspan dy={-7} fontSize={10.5}>{expText(v)}</tspan>
        </text>
      )}
    </g>
  );
}

function CbarTick(props: any) {
  const { x, y, payload } = props;
  const v = payload.value as number;
  return (
    <g>
      <line x1={x} x2={x + 4} y1={y} y2={y} stroke={INK} strokeWidth={1} />
      <text x={x + 7} y={y + 5.5} fontSize={15} fontFamily={FONT} fill={INK}>
        {v.toFixed(1).replace("-", "\u2212")}
      </text>
    </g>
  );
}

type Layer = { data: P[]; color: string; r: number };

const dotShape = (r: number, color: string) => (p: any) => (
  <circle cx={p.cx} cy={p.cy} r={r} fill={color} />
);

const toRows = (a: P[]) => a.map(([x, y]) => ({ x, y }));

const SMALL = 2.6;
const CORE = 11.5;
const MID = 4.7;

const leftLayers: Layer[] = [
  { data: leftDarkCore, color: SFR_COLORS[0], r: CORE },
  { data: leftDark, color: SFR_COLORS[0], r: SMALL },
  { data: leftPurpleCore, color: SFR_COLORS[1], r: MID },
  { data: leftPurple, color: SFR_COLORS[1], r: SMALL },
  { data: leftRedCore, color: SFR_COLORS[2], r: MID },
  { data: leftRed, color: SFR_COLORS[2], r: SMALL },
  { data: leftOrangeCore, color: SFR_COLORS[3], r: 4 },
  { data: leftOrange, color: SFR_COLORS[3], r: SMALL },
  { data: leftYellow, color: SFR_COLORS[4], r: SMALL },
  { data: leftDarkTop, color: SFR_COLORS[0], r: SMALL },
];

const rightLayers: Layer[] = [
  { data: rightTealCore, color: MASS_COLORS[0], r: CORE },
  { data: rightTeal, color: MASS_COLORS[0], r: SMALL },
  { data: rightDkGreenCore, color: MASS_COLORS[1], r: MID },
  { data: rightDkGreen, color: MASS_COLORS[1], r: SMALL },
  { data: rightGreenCore, color: MASS_COLORS[2], r: MID },
  { data: rightGreen, color: MASS_COLORS[2], r: SMALL },
  { data: rightOliveCore, color: MASS_COLORS[3], r: MID },
  { data: rightOlive, color: MASS_COLORS[3], r: SMALL },
  { data: rightGoldCore, color: MASS_COLORS[4], r: 3.8 },
  { data: rightGold, color: MASS_COLORS[4], r: SMALL },
  { data: rightLight, color: MASS_COLORS[5], r: SMALL },
  { data: rightTealTop, color: MASS_COLORS[0], r: SMALL },
];

function Panel({ layers, left, yAxisWidth, rightMargin }: { layers: Layer[]; left: number; yAxisWidth: number; rightMargin: number }) {
  return (
    <div style={{ position: "absolute", left, top: 0 }}>
      <ScatterChart width={600} height={507} margin={{ top: 13, right: rightMargin, bottom: 0, left: 0 }}>
        <XAxis
          type="number"
          dataKey="x"
          domain={X_DOMAIN}
          ticks={X_TICKS}
          interval={0}
          allowDataOverflow
          axisLine={false}
          tickLine={false}
          tickSize={0}
          tickMargin={0}
          height={55}
          tick={<XTick />}
        />
        <YAxis
          type="number"
          dataKey="y"
          domain={Y_DOMAIN}
          ticks={Y_TICKS}
          interval={0}
          allowDataOverflow
          axisLine={false}
          tickLine={false}
          tickSize={0}
          tickMargin={0}
          width={yAxisWidth}
          tick={<YTick />}
        />
        {layers.map((l, i) => (
          <Scatter
            key={i}
            data={toRows(l.data)}
            fill={l.color}
            shape={dotShape(l.r, l.color)}
            isAnimationActive={false}
          />
        ))}
        <ReferenceArea
          x1={X_DOMAIN[0]}
          x2={X_DOMAIN[1]}
          y1={Y_DOMAIN[0]}
          y2={Y_DOMAIN[1]}
          fill="none"
          stroke={SPINE}
          strokeWidth={1.2}
          ifOverflow="visible"
        />
      </ScatterChart>
    </div>
  );
}

function Colorbar({ left, edges, colors, ticks }: { left: number; edges: number[]; colors: string[]; ticks: number[] }) {
  const lo = edges[0];
  const hi = edges[edges.length - 1];
  const anchors = ticks.map((t) => ({ x: 0.5, y: t }));
  return (
    <div style={{ position: "absolute", left, top: 0 }}>
      <ScatterChart width={100} height={507} margin={{ top: 13, right: 0, bottom: 55, left: 0 }}>
        <XAxis type="number" dataKey="x" domain={[0, 1]} hide />
        <YAxis
          orientation="right"
          type="number"
          dataKey="y"
          domain={[lo, hi]}
          ticks={ticks}
          interval={0}
          axisLine={false}
          tickLine={false}
          tickSize={0}
          tickMargin={0}
          width={78}
          tick={<CbarTick />}
        />
        {colors.map((c, i) => (
          <ReferenceArea key={i} x1={0} x2={1} y1={edges[i]} y2={edges[i + 1]} fill={c} fillOpacity={1} stroke="none" ifOverflow="visible" />
        ))}
        <ReferenceArea x1={0} x2={1} y1={lo} y2={hi} fill="none" stroke={SPINE} strokeWidth={1.2} ifOverflow="visible" />
        <Scatter data={anchors} shape={() => <g />} isAnimationActive={false} />
      </ScatterChart>
    </div>
  );
}

type Part = { t: string; sub?: boolean; sup?: boolean; it?: boolean };

function Rich({ parts }: { parts: Part[] }) {
  let off = 0;
  return (
    <>
      {parts.map((p, i) => {
        const target = p.sub ? 4 : p.sup ? -6 : 0;
        const dy = target - off;
        off = target;
        return (
          <tspan key={i} dy={dy} fontSize={target ? 10.5 : 15} fontStyle={p.it ? "italic" : "normal"}>
            {p.t}
          </tspan>
        );
      })}
    </>
  );
}

const X_TITLE: Part[] = [{ t: "Z" }, { t: "\u2605", sub: true }, { t: "\u00a0[Z" }, { t: "\u2299", sub: true }, { t: "]" }];
const Y_TITLE: Part[] = [
  { t: "α", it: true }, { t: "[CII]", sub: true }, { t: "\u00a0[" }, { t: "M", it: true }, { t: "\u2299", sub: true },
  { t: "/" }, { t: "L", it: true }, { t: "\u2299", sub: true }, { t: "]" },
];
const SFR_TITLE: Part[] = [
  { t: "log" }, { t: "10", sub: true }, { t: "\u00a0(" }, { t: "SFR", it: true }, { t: "\u00a0[" }, { t: "M", it: true },
  { t: "\u2299", sub: true }, { t: "\u00a0" }, { t: "yr", it: true }, { t: "\u22121", sup: true }, { t: "])" },
];
const MASS_TITLE: Part[] = [
  { t: "log" }, { t: "10", sub: true }, { t: "\u00a0(" }, { t: "M", it: true }, { t: "\u2605", sub: true }, { t: "\u00a0[" },
  { t: "M", it: true }, { t: "\u2299", sub: true }, { t: "])" },
];

function Titles() {
  const common = { fontFamily: FONT, fontSize: 15, fill: INK } as const;
  return (
    <svg width={1200} height={507} style={{ position: "absolute", left: 0, top: 0, pointerEvents: "none" }}>
      <text x={274.5} y={499} textAnchor="middle" {...common}><Rich parts={X_TITLE} /></text>
      <text x={896.5} y={499} textAnchor="middle" {...common}><Rich parts={X_TITLE} /></text>
      <text transform="translate(20,232.5) rotate(-90)" textAnchor="middle" {...common}><Rich parts={Y_TITLE} /></text>
      <text transform="translate(641,232.5) rotate(-90)" textAnchor="middle" {...common}><Rich parts={Y_TITLE} /></text>
      <text transform="translate(582,233) rotate(-90)" textAnchor="middle" {...common}><Rich parts={SFR_TITLE} /></text>
      <text transform="translate(1189,233) rotate(-90)" textAnchor="middle" {...common}><Rich parts={MASS_TITLE} /></text>
    </svg>
  );
}

export default function App() {
  return (
    <div style={{ position: "absolute", left: 0, top: 0, width: 1200, height: 507, background: "#fff", overflow: "hidden" }}>
      <Panel layers={leftLayers} left={0} yAxisWidth={77} rightMargin={128} />
      <Colorbar left={497} edges={SFR_EDGES} colors={SFR_COLORS} ticks={SFR_TICKS} />
      <Panel layers={rightLayers} left={600} yAxisWidth={100} rightMargin={107} />
      <Colorbar left={1118} edges={MASS_EDGES} colors={MASS_COLORS} ticks={MASS_TICKS} />
      <Titles />
    </div>
  );
}
